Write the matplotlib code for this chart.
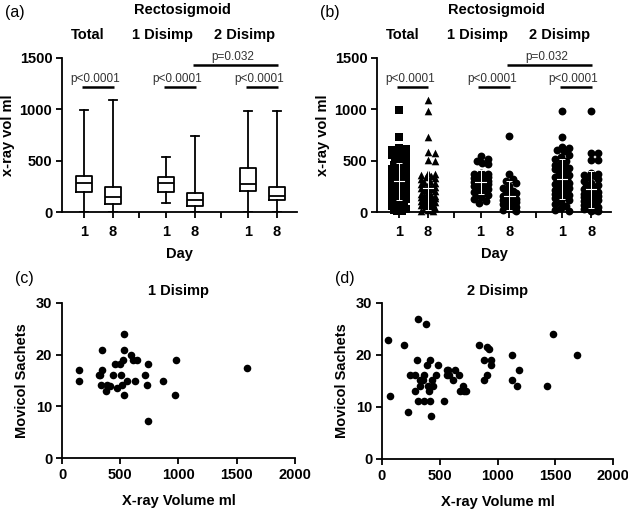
import numpy as np
import matplotlib
matplotlib.use('Agg')
import matplotlib.pyplot as plt

plt.rcParams['font.family'] = ['Liberation Sans', 'DejaVu Sans']
plt.rcParams['font.weight'] = 'bold'
plt.rcParams['axes.labelweight'] = 'bold'
plt.rcParams['axes.titleweight'] = 'bold'

# ---------------- data ----------------
group_names = ['Total', '1 Disimp', '2 Disimp']
day_labels = ['1', '8', '1', '8', '1', '8']

# (a) box plot stats per column: whisker low, q1, median, q3, whisker high
box_lo = [0, 0, 85, 0, 0, 0]
box_q1 = [198, 78, 192, 62, 207, 117]
box_med = [279, 149, 285, 117, 270, 156]
box_q3 = [354, 240, 344, 188, 425, 246]
box_hi = [993, 1090, 536, 740, 987, 984]

# (b) individual values
total_d1 = [993, 733, 620, 610, 600, 590, 580, 570, 560, 540, 520, 500, 480, 460,
            450, 440, 420, 410, 400, 390, 380, 370, 360, 355, 350, 345, 340, 335,
            330, 325, 320, 315, 310, 305, 300, 295, 290, 285, 282, 280, 278, 275,
            270, 265, 260, 255, 250, 245, 240, 235, 230, 225, 220, 215, 210, 205,
            200, 198, 195, 190, 180, 170, 160, 150, 140, 130, 120, 110, 100, 90,
            80, 70, 60, 50, 40, 30, 20, 10, 5]
total_d8 = [1090, 985, 735, 580, 575, 505, 500, 380, 370, 360, 350, 340, 330, 320,
            300, 290, 280, 270, 260, 250, 245, 240, 235, 230, 220, 210, 200, 190,
            180, 170, 165, 160, 155, 150, 148, 145, 140, 135, 130, 125, 120, 115,
            110, 105, 100, 95, 90, 85, 80, 75, 70, 65, 60, 50, 40, 30, 20, 10, 5]
dis1_d1 = [548, 520, 500, 480, 470, 380, 375, 370, 360, 350, 345, 340, 330, 320,
           310, 300, 295, 290, 285, 280, 270, 260, 250, 240, 230, 220, 200, 195,
           190, 180, 170, 150, 130, 110, 88]
dis1_d8 = [743, 370, 320, 300, 280, 250, 230, 200, 190, 185, 170, 160, 150, 140,
           130, 120, 117, 115, 110, 100, 90, 80, 70, 65, 62, 55, 45, 35, 25, 15, 8]
dis2_d1 = [987, 733, 636, 620, 604, 590, 560, 540, 520, 500, 480, 460, 440, 430,
           425, 420, 400, 380, 360, 350, 340, 330, 320, 310, 300, 290, 280, 275,
           270, 268, 265, 260, 250, 240, 230, 220, 215, 210, 207, 200, 190, 180,
           170, 160, 150, 140, 120, 100, 80, 60, 40, 20, 5]
dis2_d8 = [984, 571, 570, 506, 505, 380, 370, 360, 350, 340, 320, 300, 280, 260,
           250, 246, 240, 230, 220, 210, 200, 190, 180, 170, 165, 160, 156, 150,
           145, 140, 135, 130, 125, 120, 117, 115, 110, 100, 90, 80, 70, 60, 50,
           40, 30, 20, 10, 5]
column_values = [total_d1, total_d8, dis1_d1, dis1_d8, dis2_d1, dis2_d8]
column_markers = ['s', '^', 'o', 'o', 'o', 'o']

# p-value annotations: (start column, end column, text)
sig_start = [0, 2, 4, 3]
sig_end = [1, 3, 5, 5]
sig_text = ['p<0.0001', 'p<0.0001', 'p<0.0001', 'p=0.032']

# (c) 1 Disimp scatter
c_vol = [146, 146, 314, 326, 346, 346, 331, 377, 389, 411, 434, 454, 471, 497,
         503, 511, 520, 529, 529, 529, 554, 589, 611, 640, 629, 714, 737, 731,
         740, 869, 980, 966, 1589]
c_sachets = [17.1, 15.0, 16.1, 16.1, 21.0, 17.1, 14.1, 13.0, 14.1, 13.9, 16.1,
             18.1, 13.5, 18.1, 16.1, 14.1, 19.0, 24.0, 21.0, 12.1, 15.0, 20.0,
             19.0, 19.0, 15.0, 16.1, 18.1, 14.1, 7.1, 15.0, 19.0, 12.1, 17.5]

# (d) 2 Disimp scatter
d_vol = [49, 72, 187, 221, 244, 290, 287, 304, 310, 316, 330, 330, 359, 367, 364,
         379, 393, 396, 416, 410, 416, 425, 436, 445, 468, 482, 539, 565, 565,
         574, 580, 617, 634, 669, 674, 697, 709, 726, 844, 881, 884, 910, 912,
         927, 941, 941, 1122, 1122, 1171, 1182, 1432, 1483, 1687]
d_sachets = [22.9, 12.1, 22.0, 9.1, 16.1, 16.1, 13.1, 19.1, 11.1, 27.0, 15.1,
             14.1, 15.1, 16.1, 11.1, 26.0, 18.1, 14.1, 19.1, 13.1, 11.1, 8.2,
             15.1, 14.1, 16.1, 18.1, 11.1, 17.1, 16.1, 17.1, 16.1, 15.1, 17.1,
             16.1, 13.1, 14.1, 13.1, 13.1, 22.0, 19.1, 15.1, 16.1, 21.6, 21.1,
             19.1, 18.1, 20.0, 15.1, 14.1, 17.1, 14.1, 24.0, 20.0]

vol_ticks = [0, 500, 1000, 1500]
sachet_ticks = [0, 10, 20, 30]
xray_ticks = [0, 500, 1000, 1500, 2000]

# ---------------- layout ----------------
W, H = 628, 509
positions = [0, 1, 2.83, 3.83, 5.66, 6.66]
separators = [1.91, 4.74]
XLIM = (-0.76, 7.35)

fig = plt.figure(figsize=(W / 100, H / 100), dpi=100)


def px_axes(left, right, top, bottom):
    return fig.add_axes([left / W, 1 - bottom / H, (right - left) / W, (bottom - top) / H])


def style_axes(ax):
    for s in ['top', 'right']:
        ax.spines[s].set_visible(False)
    for s in ['left', 'bottom']:
        ax.spines[s].set_linewidth(1.3)
    ax.tick_params(direction='out', length=4, width=1.3, labelsize=10.5, pad=3)
    ax.tick_params(which='minor', direction='out', length=4, width=1.3)


def setup_group_axes(ax, label):
    style_axes(ax)
    ax.set_xlim(*XLIM)
    ax.set_ylim(0, 1500)
    ax.set_yticks(vol_ticks, [str(t) for t in vol_ticks], fontweight='bold')
    ax.set_xticks(positions, day_labels, fontweight='bold')
    ax.set_xticks(separators, minor=True)
    ax.tick_params(axis='x', pad=5)
    ax.set_xlabel('Day', fontsize=10.5, labelpad=6)
    ax.set_ylabel('x-ray vol ml', fontsize=10.5, labelpad=3)
    ax.text(3.38, 1967, 'Rectosigmoid', ha='center', va='center', fontsize=10.5,
            clip_on=False)
    for xg, name in zip([0.14, 2.72, 5.55], group_names):
        ax.text(xg, 1724, name, ha='center', va='center', fontsize=10.5, clip_on=False)
    for i0, i1, txt in zip(sig_start, sig_end, sig_text):
        x0, x1 = positions[i0] - 0.08, positions[i1] + 0.02
        yb = 1429 if txt.startswith('p=') else 1215
        ax.plot([x0, x1], [yb, yb], color='black', lw=1.8, solid_capstyle='butt',
                clip_on=False)
        ax.text((x0 + x1) / 2 - 0.08, yb + 20, txt, ha='center', va='bottom',
                fontsize=8.5, fontweight='normal', color='#333333', clip_on=False)
    fig.text(ax.get_position().x0 - 57 / W, 1 - 12 / H, label, fontsize=11.5,
             fontweight='normal', ha='left', va='center')


def beeswarm(vals, pos, dx_px, dy_px, half_width, diam):
    # horizontal offsets so markers overlap as little as possible
    order = np.argsort(vals)[::-1]
    xs = np.zeros(len(vals))
    placed = []
    cands = [0.0]
    step = 0.06
    k = 1
    while k * step <= half_width + 1e-9:
        cands += [k * step, -k * step]
        k += 1
    for i in order:
        v = vals[i]
        best, best_d = 0.0, -1
        for c in cands:
            dmin = 1e9
            for (px, pv) in placed:
                d = np.hypot((c - px) * dx_px, (v - pv) * dy_px)
                dmin = min(dmin, d)
            if dmin >= diam:
                best = c
                break
            if dmin > best_d:
                best_d, best = dmin, c
        xs[i] = pos + best
        placed.append((best, v))
    return xs


# (a) box plots
ax_a = px_axes(62, 297, 58, 212)
stats = []
for lo, q1, med, q3, hi in zip(box_lo, box_q1, box_med, box_q3, box_hi):
    stats.append(dict(whislo=lo, q1=q1, med=med, q3=q3, whishi=hi, fliers=[]))
lw = 1.3
ax_a.bxp(stats, positions=positions, widths=0.57, showfliers=False,
         boxprops=dict(color='black', linewidth=lw),
         medianprops=dict(color='black', linewidth=lw),
         whiskerprops=dict(color='black', linewidth=lw),
         capprops=dict(color='black', linewidth=lw), capwidths=0.3)
setup_group_axes(ax_a, '(a)')

# (b) scatter dot plot with mean and SD
ax_b = px_axes(377, 611, 58, 212)
dx_px = 29.0
dy_px = 154 / 1500
for vals, pos, mk in zip(column_values, positions, column_markers):
    vals = np.array(vals, dtype=float)
    xs = beeswarm(vals, pos, dx_px, dy_px, 0.26, 6.0)
    ax_b.scatter(xs, vals, marker=mk, s=32 if mk != '^' else 30, color='black',
                 linewidths=0, zorder=3, clip_on=False)
    m, sd = vals.mean(), vals.std(ddof=1)
    ax_b.plot([pos - 0.18, pos + 0.18], [m, m], color='white', lw=0.8, zorder=4)
    ax_b.errorbar([pos], [m], yerr=[[sd], [sd]], color='white', lw=0.7,
                  capsize=2.5, capthick=0.7, zorder=4)
setup_group_axes(ax_b, '(b)')

# (c) and (d) scatter plots
for (l, r, t, b), xv, yv, title, lab in [((62, 295, 303, 458), c_vol, c_sachets, '1 Disimp', '(c)'),
                                         ((382, 613, 303, 459), d_vol, d_sachets, '2 Disimp', '(d)')]:
    ax = px_axes(l, r, t, b)
    style_axes(ax)
    ax.scatter(xv, yv, s=30, color='black', linewidths=0, clip_on=False, zorder=3)
    ax.set_xlim(0, 2000)
    ax.set_ylim(0, 30)
    ax.set_xticks(xray_ticks, [str(t) for t in xray_ticks], fontweight='bold')
    ax.set_yticks(sachet_ticks, [str(t) for t in sachet_ticks], fontweight='bold')
    ax.set_xlabel('X-ray Volume ml', fontsize=10.5, labelpad=9)
    ax.set_ylabel('Movicol Sachets', fontsize=10.5, labelpad=5)
    ax.set_title(title, fontsize=10.5, pad=6)
    fig.text(l / W - 47 / W, 1 - 278 / H, lab, fontsize=11.5, fontweight='normal',
             ha='left', va='center')

fig.savefig('out.png', dpi=100)
